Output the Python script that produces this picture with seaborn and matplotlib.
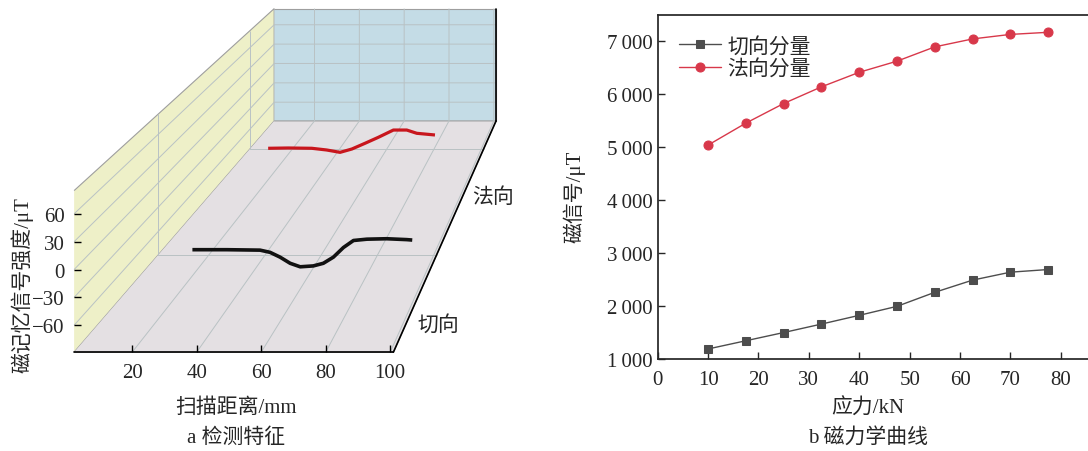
import numpy as np
import pandas as pd
import matplotlib
matplotlib.use('Agg')
import matplotlib.pyplot as plt
import seaborn as sns
from matplotlib.ticker import FuncFormatter
from mpl_toolkits.mplot3d import Axes3D

sns.set_theme(style='ticks')
plt.rcParams['font.family'] = ['Liberation Serif', 'Noto Sans CJK SC']
plt.rcParams['axes.unicode_minus'] = True

# ---- panel a: detection feature (3D) ----
tan_x = [28.8, 40.1, 51.0, 54.3, 57.6, 60.9, 64.2, 68.5, 71.8, 75.1, 78.4, 81.7, 86.1, 92.6, 99.2, 101]
tan_z = [-20.5, -20.5, -21, -23.5, -29, -36, -40, -39, -36, -29, -18, -10, -8.5, -8, -9, -9.5]
nor_x = [25.4, 33.2, 42.4, 48.2, 53.4, 58.0, 63.1, 68.3, 74.2, 79.4, 83.3, 90.4]
nor_z = [-22.7, -22.3, -22.7, -25.0, -28.2, -23.7, -16.0, -7.9, 2.0, 2.0, -2.4, -4.7]
tan_pos, nor_pos = 0.6, 1.5
dir_ticks = [0.5, 1.5]
dir_labels = ['切向', '法向']
dir_grid = [1, 2]
dist_ticks = [20, 40, 60, 80, 100]
sig_ticks = [-60, -30, 0, 30, 60]

# ---- panel b: magneto-mechanical curve ----
stress = [10, 17.5, 25, 32.5, 40, 47.5, 55, 62.5, 70, 77.5]
tangential = [1190, 1345, 1500, 1660, 1825, 1995, 2260, 2490, 2640, 2690]
normal = [5040, 5455, 5825, 6140, 6415, 6625, 6895, 7045, 7130, 7170]

FIG_W, FIG_H = 1088, 452
XLIM, YLIM, ZLIM = (2, 101), (0.33, 2.33), (-89, 85)
BOX = (1.976, 1.5, 1.0)          # box proportions x:y:z
CAM = (552.3, 4.059, -3.418, 4.692, 730.0, -405.0)   # focal, eye x/y/z, vanishing point px
AX_PX = (0, -40, 520)            # 3D axes square: left, bottom, size in pixels
FRONT_PX = (74.1, 393.4, 191.6, 353.2)   # front face of the box: left, right, top, bottom


def one_point_proj(self):
    # camera looks straight along +y (image plane parallel to x-z), eye up and to the right
    Axes3D.get_proj(self)
    W = np.eye(4)
    for i, (lo, hi) in enumerate([self.get_xlim3d(), self.get_ylim3d(), self.get_zlim3d()]):
        W[i, i] = BOX[i] / (hi - lo)
        W[i, 3] = -lo * BOX[i] / (hi - lo)
    f, ex, ey, ez, vx, vy = CAM
    d_row = np.array([0.0, 1.0, 0.0, -ey])
    sx_row = np.array([f, vx, 0.0, -vx * ey - f * ex])
    sy_row = np.array([0.0, vy, -f, -vy * ey + f * ez])
    (xlo, xhi), (ylo, yhi) = self.viewLim.intervalx, self.viewLim.intervaly
    left, bottom, size = AX_PX
    x_row = xlo * d_row + (xhi - xlo) / size * (sx_row - left * d_row)
    y_row = ylo * d_row + (yhi - ylo) / size * ((FIG_H - bottom) * d_row - sy_row)
    eps = 0.01
    z_row = np.array([-eps / BOX[0], 0.0, -eps / BOX[2], -1 + 2 * eps])
    return np.vstack([x_row, y_row, z_row, d_row]) @ W


fig = plt.figure(figsize=(FIG_W / 100, FIG_H / 100), dpi=100)

ax3 = fig.add_axes([AX_PX[0] / FIG_W, AX_PX[1] / FIG_H, AX_PX[2] / FIG_W, AX_PX[2] / FIG_H],
                   projection='3d')
ax3.view_init(elev=20, azim=-90)
ax3.get_proj = one_point_proj.__get__(ax3)
ax3.set_facecolor('none')

ax3.plot(tan_x, [tan_pos] * len(tan_x), tan_z, color='#111111', lw=2.6, solid_capstyle='butt')
ax3.plot(nor_x, [nor_pos] * len(nor_x), nor_z, color='#c8161d', lw=2.3, solid_capstyle='butt')

ax3.set_xlim(*XLIM)
ax3.set_ylim(*YLIM)
ax3.set_zlim(*ZLIM)
ax3.set_xticks(dist_ticks)
ax3.set_xticklabels([])
ax3.set_yticks(dir_grid)
ax3.set_yticklabels([])
ax3.set_zticks(sig_ticks)
ax3.set_zticklabels([])
for pos, lab in zip(dir_ticks, dir_labels):
    ax3.text(XLIM[1] + 4, pos, ZLIM[0], lab, fontsize=15, ha='left', va='center')

ax3.xaxis.set_pane_color('#eef0c8')
ax3.yaxis.set_pane_color('#c4dce6')
ax3.zaxis.set_pane_color('#e4e0e3')
for a in (ax3.xaxis, ax3.yaxis, ax3.zaxis):
    a.pane.set_edgecolor('#9e9e9e')
    a.pane.set_linewidth(0.8)
    a._axinfo['grid']['color'] = '#b9c2c4'
    a._axinfo['grid']['linewidth'] = 0.7
    a._axinfo['tick']['inward_factor'] = 0.0
    a._axinfo['tick']['outward_factor'] = 0.0
    a.line.set_color('black')
    a.line.set_linewidth(1.2)
    a.label.set_visible(False)
    a.offsetText.set_visible(False)

# ticks and labels of the front face (flat, so a plain axes lies on it)
L, R, T, B = FRONT_PX
axf = fig.add_axes([L / FIG_W, 1 - B / FIG_H, (R - L) / FIG_W, (B - T) / FIG_H])
axf.set_facecolor('none')
axf.set_xlim(*XLIM)
axf.set_ylim(*ZLIM)
axf.set_xticks(dist_ticks)
axf.set_yticks(sig_ticks)
axf.tick_params(direction='in', length=5, width=1, labelsize=15, color='black')
axf.tick_params(axis='x', pad=8)
axf.tick_params(axis='y', pad=7)
for s in axf.spines.values():
    s.set_visible(False)

fig.text(0.020, 0.369, '磁记忆信号强度/μT', rotation=90, ha='center', va='center', fontsize=15)
fig.text(0.217, 0.097, '扫描距离/mm', ha='center', va='center', fontsize=15)
fig.text(0.217, 0.031, 'a 检测特征', ha='center', va='center', fontsize=15)

# 2D panel (right spine falls just at the figure edge)
ax = fig.add_axes([0.6045, 0.2035, 0.3955, 0.7615])
sns.lineplot(x=stress, y=tangential, ax=ax, color='#4d4d4d', marker='s', markersize=5.5,
             markeredgecolor='#4d4d4d', lw=1, label='切向分量')
sns.lineplot(x=stress, y=normal, ax=ax, color='#d8384a', marker='o', markersize=6.5,
             markeredgecolor='#d8384a', lw=1, label='法向分量')
ax.set_xlim(0, 85.4)
ax.set_ylim(1000, 7500)
ax.set_xticks(range(0, 81, 10))
ax.set_yticks(range(1000, 7001, 1000))
ax.yaxis.set_major_formatter(FuncFormatter(lambda v, p: f'{int(v):,}'.replace(',', '\u2009')))
ax.tick_params(direction='in', labelsize=15, length=5, width=1)
ax.tick_params(axis='x', pad=8)
ax.spines['right'].set_visible(False)
ax.set_xlabel('应力/kN', fontsize=15, va='top')
ax.set_ylabel('磁信号/μT', fontsize=15)
ax.xaxis.set_label_coords(0.489, -0.113)
ax.yaxis.set_label_coords(-0.169, 0.474)
ax.legend(loc='upper left', frameon=False, fontsize=15, bbox_to_anchor=(0.01, 0.985),
          handlelength=2.05, handletextpad=0.3, labelspacing=0.12, borderaxespad=0.4)
fig.text(0.798, 0.031, 'b 磁力学曲线', ha='center', va='center', fontsize=15)

fig.savefig('out.png', dpi=100)
